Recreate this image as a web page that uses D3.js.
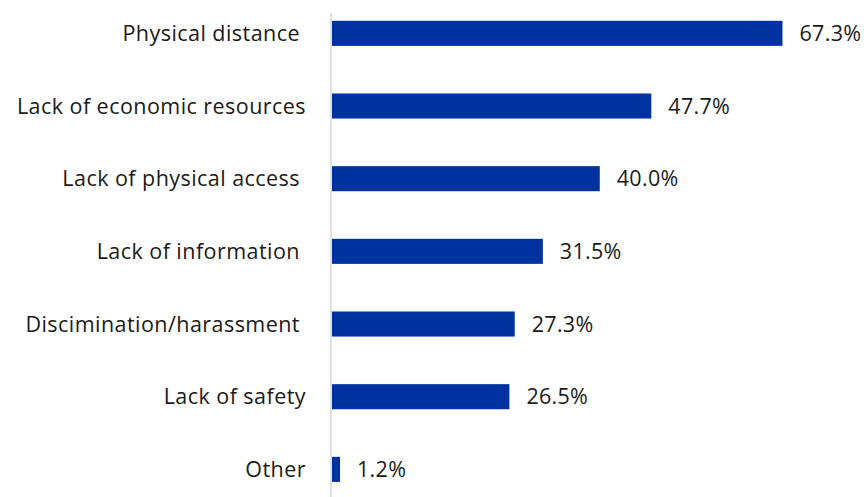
<!DOCTYPE html>
<html><head><meta charset="utf-8">
<script src="https://cdn.jsdelivr.net/npm/d3@7/dist/d3.min.js"></script>
<style>body{margin:0;background:#fff}text{font-family:"Open Sans",sans-serif;fill:#1a1a1a}</style>
</head><body><svg id="c" width="864" height="497"></svg>
<script>
const categories = ["Physical distance ", "Lack of economic resources", "Lack of physical access ", "Lack of information ", "Discimination/harassment ", "Lack of safety", "Other"];
const values = [67.3, 47.7, 40.0, 31.5, 27.3, 26.5, 1.2];

const svg = d3.select("#c");
const x0 = 332;
const x = d3.scaleLinear().domain([0, 67.3]).range([x0, 782.5]);
const y = d3.scaleBand().domain(categories).range([-3, 505.7]).paddingInner(0.655).paddingOuter(0.3275);

svg.append("line").attr("x1", 331).attr("x2", 331).attr("y1", 13).attr("y2", 497)
  .attr("stroke", "#d9d9d9").attr("stroke-width", 1.5);

svg.selectAll("rect.bar").data(values).join("rect").attr("class","bar")
  .attr("x", x(0)).attr("y", (d,i)=>y(categories[i]))
  .attr("width", d=>x(d)-x(0)).attr("height", y.bandwidth())
  .attr("fill", "#0033a0");

svg.selectAll("text.cat").data(categories).join("text").attr("class","cat")
  .attr("x", 306).attr("y", d=>y(d)+y.bandwidth()/2).attr("dy","0.35em")
  .attr("text-anchor","end").style("white-space","pre").attr("font-size", 21.5)
  .attr("letter-spacing", 0.45)
  .text(d=>d);

svg.selectAll("text.val").data(values).join("text").attr("class","val")
  .attr("x", d=>x(d)+17).attr("y", (d,i)=>y(categories[i])+y.bandwidth()/2).attr("dy","0.35em")
  .attr("font-size", 21.5).attr("letter-spacing", 0.3).text(d=>d.toFixed(1)+"%");
</script></body></html>
